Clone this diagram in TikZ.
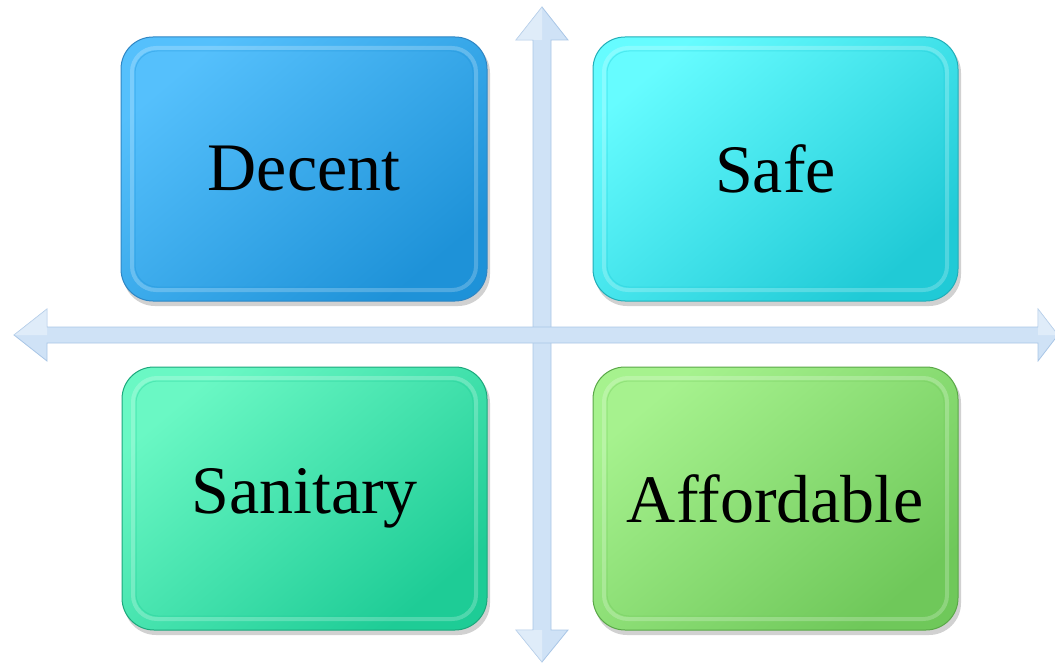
\documentclass[tikz,border=0pt]{standalone}
\usepackage{fontspec}
\setmainfont{Liberation Serif}
\definecolor{axisfill}{HTML}{CFE2F6}
\definecolor{axisedge}{HTML}{A9C6E6}
\definecolor{decL}{HTML}{55C0FC}
\definecolor{decD}{HTML}{1E92D8}
\definecolor{decE}{HTML}{2F86C4}
\definecolor{safL}{HTML}{66FCFF}
\definecolor{safD}{HTML}{20CAD6}
\definecolor{safE}{HTML}{22AEB8}
\definecolor{sanL}{HTML}{6AF8C4}
\definecolor{sanD}{HTML}{1ECC96}
\definecolor{sanE}{HTML}{1CA87C}
\definecolor{affL}{HTML}{A6F28E}
\definecolor{affD}{HTML}{6FC85A}
\definecolor{affE}{HTML}{5AA848}
\tikzset{
  axisarrow/.style={fill=axisfill, draw=axisedge, line width=0.8pt, line join=miter},
  label/.style={font=\fontsize{68}{72}\selectfont, text=black, inner sep=0pt}
}
\newcommand{\quadbox}[7]{%
  % #1 name, #2 x0, #3 y0, #4 x1, #5 y1, #6 colour prefix, #7 text
  \fill[black, opacity=0.18, rounded corners=32pt] (#2+2,#3+4) rectangle (#4+3,#5+5);
  \shade[rounded corners=32pt, top color=#6L, bottom color=#6D, shading angle=40]
        (#2,#3) rectangle (#4,#5);
  \draw[white, opacity=0.22, line width=4pt, rounded corners=24pt]
        (#2+11,#3+11) rectangle (#4-11,#5-11);
  \draw[#6D, opacity=0.35, line width=1pt, rounded corners=22pt]
        (#2+14,#3+14) rectangle (#4-14,#5-14);
  \draw[#6E, line width=1pt, rounded corners=32pt] (#2,#3) rectangle (#4,#5);
  \node[label] (#1) at ({(#2+#4)/2},{(#3+#5)/2}) {#7};
}
\begin{document}
\begin{tikzpicture}[x=1pt,y=-1pt]
\useasboundingbox (0,0) rectangle (1055,663);
\begin{scope}
\clip (0,0) rectangle (1055,663);
% vertical axis
\coordinate (vtop) at (542,7);
\coordinate (vbot) at (542,662);
\draw[axisarrow] (vtop) -- (568,40) -- (551,40) -- (551,630) -- (568,630)
  -- (vbot) -- (516,630) -- (533,630) -- (533,40) -- (516,40) -- cycle;
% horizontal axis
\coordinate (hleft) at (14,335);
\coordinate (hright) at (1058,335);
\draw[axisarrow] (hleft) -- (47,309) -- (47,327) -- (1038,327) -- (1038,309)
  -- (hright) -- (1038,361) -- (1038,343) -- (47,343) -- (47,361) -- cycle;
\fill[white, opacity=0.35] (vtop) -- (542,40) -- (516,40) -- cycle;
\fill[white, opacity=0.35] (hleft) -- (47,335) -- (47,309) -- cycle;
\fill[white, opacity=0.35] (vbot) -- (542,630) -- (516,630) -- cycle;
\fill[white, opacity=0.35] (hright) -- (1038,335) -- (1038,309) -- cycle;
\end{scope}
\quadbox{decent}{121}{37}{487}{301}{dec}{Decent}
\quadbox{safe}{593}{37}{958}{301}{saf}{Safe}
\quadbox{sanitary}{122}{367}{487}{630}{san}{Sanitary}
\quadbox{affordable}{593}{367}{958}{630}{aff}{Affordable}
\end{tikzpicture}
\end{document}
